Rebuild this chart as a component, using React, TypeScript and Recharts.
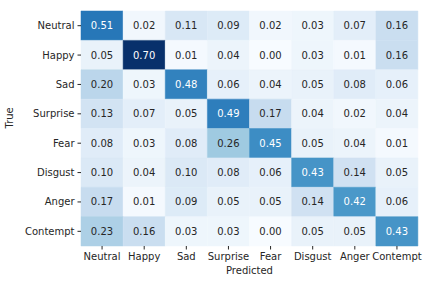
import { Bar, BarChart, Cell, LabelList, XAxis, YAxis } from "recharts";

const labels = ["Neutral", "Happy", "Sad", "Surprise", "Fear", "Disgust", "Anger", "Contempt"];

// rows = true class, columns = predicted class
const neutral = [0.51, 0.02, 0.11, 0.09, 0.02, 0.03, 0.07, 0.16];
const happy = [0.05, 0.7, 0.01, 0.04, 0.0, 0.03, 0.01, 0.16];
const sad = [0.2, 0.03, 0.48, 0.06, 0.04, 0.05, 0.08, 0.06];
const surprise = [0.13, 0.07, 0.05, 0.49, 0.17, 0.04, 0.02, 0.04];
const fear = [0.08, 0.03, 0.08, 0.26, 0.45, 0.05, 0.04, 0.01];
const disgust = [0.1, 0.04, 0.1, 0.08, 0.06, 0.43, 0.14, 0.05];
const anger = [0.17, 0.01, 0.09, 0.05, 0.05, 0.14, 0.42, 0.06];
const contempt = [0.23, 0.16, 0.03, 0.03, 0.0, 0.05, 0.05, 0.43];

const matrix = [neutral, happy, sad, surprise, fear, disgust, anger, contempt];

const blues = [
  [247, 251, 255],
  [222, 235, 247],
  [198, 219, 239],
  [158, 202, 225],
  [107, 174, 214],
  [66, 146, 198],
  [33, 113, 181],
  [8, 81, 156],
  [8, 48, 107]
];

const vmin = 0;
const vmax = 0.7;

function blueRgb(v: number) {
  let t = (v - vmin) / (vmax - vmin);
  t = Math.max(0, Math.min(1, t));
  const pos = t * (blues.length - 1);
  const i = Math.min(Math.floor(pos), blues.length - 2);
  const f = pos - i;
  return blues[i].map((c, k) => Math.round(c + (blues[i + 1][k] - c) * f));
}

function blueColor(v: number) {
  const [r, g, b] = blueRgb(v);
  return `rgb(${r},${g},${b})`;
}

// seaborn style: light text on dark cells
function textColor(v: number) {
  const lin = blueRgb(v).map((c) => {
    const s = c / 255;
    return s <= 0.03928 ? s / 12.92 : Math.pow((s + 0.055) / 1.055, 2.4);
  });
  const lum = 0.2126 * lin[0] + 0.7152 * lin[1] + 0.0722 * lin[2];
  return lum > 0.408 ? "#262626" : "#ffffff";
}

const data = labels.map((name, col) => {
  const row: Record<string, number | string> = { name };
  matrix.forEach((vals, r) => {
    row[`r${r}`] = 1;
    row[`v${r}`] = vals[col];
  });
  return row;
});

const font = "DejaVu Sans, Verdana, sans-serif";

export default function App() {
  return (
    <div style={{ position: "absolute", left: 0, top: 0, width: 432, height: 288, background: "#fff" }}>
      <BarChart
        width={432}
        height={288}
        data={data}
        margin={{ top: 11, right: 14, left: 5, bottom: 12 }}
        barCategoryGap={0}
        barGap={0}
        style={{ fontFamily: font }}
      >
        <XAxis
          dataKey="name"
          height={30}
          axisLine={false}
          tickSize={3.5}
          tickMargin={3}
          tickLine={{ stroke: "#262626" }}
          tick={{ fontSize: 10, fill: "#262626" }}
          interval={0}
          label={{ value: "Predicted", position: "insideBottom", offset: 2, fontSize: 10, fill: "#262626" }}
        />
        <YAxis
          type="number"
          domain={[0, 8]}
          reversed
          width={76}
          ticks={[0.5, 1.5, 2.5, 3.5, 4.5, 5.5, 6.5, 7.5]}
          tickFormatter={(v: number) => labels[Math.floor(v)]}
          axisLine={false}
          tickSize={3.5}
          tickMargin={3}
          tickLine={{ stroke: "#262626" }}
          tick={{ fontSize: 10, fill: "#262626" }}
          interval={0}
          label={{ value: "True", angle: -90, position: "insideLeft", offset: 4, fontSize: 10, fill: "#262626" }}
        />
        {matrix.map((vals, r) => (
          <Bar key={r} dataKey={`r${r}`} stackId="m" isAnimationActive={false}>
            {vals.map((v, c) => (
              <Cell key={c} fill={blueColor(v)} stroke={blueColor(v)} strokeWidth={0.5} />
            ))}
            <LabelList
              dataKey={`v${r}`}
              content={(p: any) => {
                const v = Number(p.value);
                return (
                  <text
                    x={Number(p.x) + Number(p.width) / 2}
                    y={Number(p.y) + Number(p.height) / 2}
                    textAnchor="middle"
                    dominantBaseline="central"
                    fontSize={10}
                    fontFamily={font}
                    fill={textColor(v)}
                  >
                    {v.toFixed(2)}
                  </text>
                );
              }}
            />
          </Bar>
        ))}
      </BarChart>
    </div>
  );
}
